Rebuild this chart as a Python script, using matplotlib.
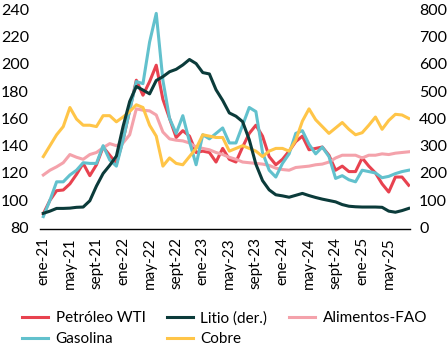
import matplotlib.pyplot as plt
import numpy as np

plt.rcParams['font.family'] = ['Lato', 'DejaVu Sans']

# Monthly series, ene-21 .. ago-25 (index, left axis; lithium on the right axis)
petroleo = [90, 100, 107, 107.5, 112, 119, 127, 118, 126, 139, 133, 127,
            144, 166, 188, 177, 187, 199, 174, 160, 146, 151, 147, 135,
            136, 135, 128, 138, 130, 128, 139, 149, 155, 147, 132, 126,
            130, 136, 143, 147, 137, 138, 139, 133, 122, 125, 121, 121,
            131, 125, 120, 112, 106, 117, 117, 111]
gasolina = [88, 100, 113.5, 113.5, 118.5, 122, 127.5, 127, 127, 140, 129.5, 125,
            144, 166, 187, 185.5, 216, 237, 188, 160, 149, 162, 143, 126,
            148, 145, 149, 153, 142, 142, 155, 168, 165, 135, 122, 117,
            127, 134, 149, 151, 141, 134, 139, 132, 116, 118, 115, 113.5,
            122, 121, 120, 116.5, 117.5, 119.5, 121, 122]
litio = [52, 60, 70, 70, 71, 74, 75, 98, 152, 198, 228, 262,
         370, 462, 517, 504, 490, 539, 553, 571, 580, 596, 616, 601,
         568, 563, 505, 466, 420, 408, 388, 322, 232, 172, 138, 120,
         116, 111, 118, 125, 117, 110, 104, 99, 94, 84, 78, 76,
         75, 75, 75, 74, 60, 56, 62, 70]
alimentos = [118.5, 122, 124.5, 127.5, 133.5, 131.5, 130, 133.5, 135, 138.5, 141.5, 140,
             142, 148, 167, 166, 165.5, 162.5, 150, 145, 144, 143.5, 142, 139,
             138, 137, 135, 133.5, 131.5, 130, 128, 127.5, 127, 126.5, 125.5, 123.5,
             122.5, 122, 124, 124.5, 125, 126, 126.5, 128, 131, 133, 133, 133,
             131, 133, 133, 134, 133.5, 134.5, 135, 135.5]
cobre = [132, 140, 148, 154, 168, 159.5, 155, 155, 154, 162, 162, 157.5,
         161, 165, 170, 168, 155, 147, 125, 131, 127, 126, 132, 138,
         148, 147, 146, 146, 136, 138, 140, 138, 136, 132, 136, 138,
         138, 136, 144, 158, 167, 159, 154, 149, 153, 157, 152, 148,
         149.5, 155, 161, 152, 158.5, 163, 162.5, 160]

etiquetas = ['ene-21', 'may-21', 'sept-21', 'ene-22', 'may-22', 'sept-22', 'ene-23',
             'may-23', 'sept-23', 'ene-24', 'may-24', 'sept-24', 'ene-25', 'may-25']

c_rojo = '#E8424F'
c_verde = '#0B3B3A'
c_rosa = '#F4A2AB'
c_cian = '#62C1CD'
c_amarillo = '#FFC548'

x = np.arange(len(petroleo))

fig = plt.figure(figsize=(4.47, 3.49), dpi=100)
ax = fig.add_axes([40/447, 1 - 229/349, 370/447, 219.7/349])
ax2 = ax.twinx()

lw = 2.2
l1, = ax.plot(x, petroleo, color=c_rojo, lw=lw, label='Petróleo WTI')
l3, = ax.plot(x, alimentos, color=c_rosa, lw=lw, label='Alimentos-FAO')
l4, = ax.plot(x, gasolina, color=c_cian, lw=lw, label='Gasolina')
l5, = ax.plot(x, cobre, color=c_amarillo, lw=lw, label='Cobre')
l2, = ax2.plot(x, litio, color=c_verde, lw=lw, label='Litio (der.)')

ax.set_xlim(-0.5, 55.2)
ax.set_ylim(78.9, 240)
ax2.set_ylim(-5.5, 800)
ax.set_yticks(np.arange(80, 241, 20))
ax2.set_yticks(np.arange(0, 801, 100))
ax.set_xticks(np.arange(0, len(etiquetas) * 4, 4))
ax.set_xticklabels(etiquetas, rotation=90)

for a in (ax, ax2):
    for s in a.spines.values():
        s.set_visible(False)
    a.tick_params(length=0, labelsize=11.5)
ax.spines['bottom'].set_visible(True)
ax.spines['bottom'].set_linewidth(1.0)
ax.tick_params(axis='x', labelsize=11, pad=6)
ax.tick_params(axis='y', pad=8)
ax2.tick_params(axis='y', pad=6.5)

handles = [l1, l4, l2, l5, l3]
fig.legend(handles, [h.get_label() for h in handles], ncol=3, frameon=False,
           loc='upper left', bbox_to_anchor=(22/447, 1 - 311/349),
           fontsize=11, handlelength=1.7, handletextpad=0.5,
           columnspacing=1.4, labelspacing=0.45, borderpad=0, borderaxespad=0)

fig.savefig('out.png', dpi=100)
